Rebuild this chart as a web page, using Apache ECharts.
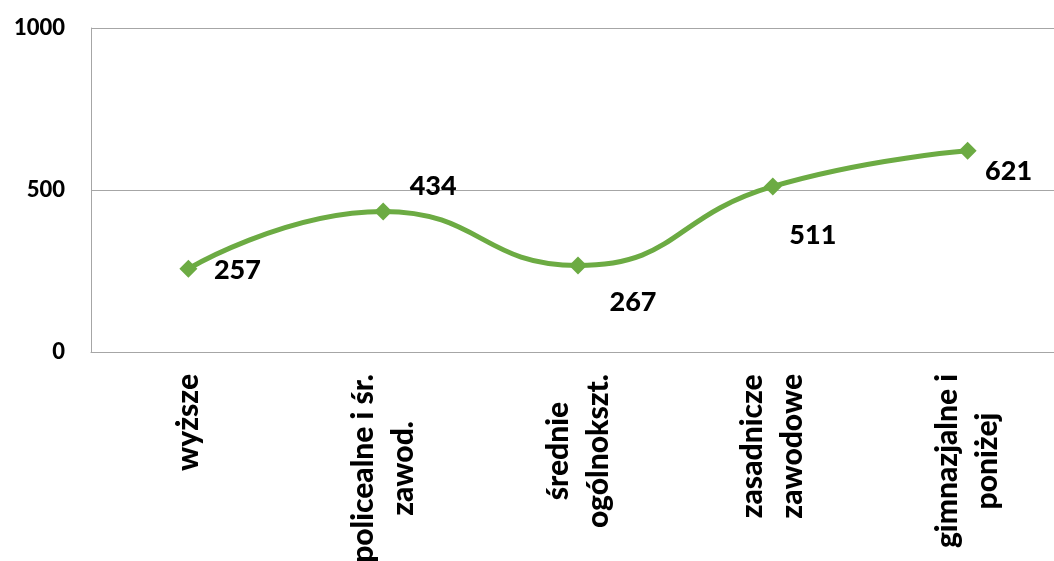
<!DOCTYPE html>
<html>
<head>
<meta charset="utf-8">
<script src="https://cdn.jsdelivr.net/npm/echarts@6/dist/echarts.min.js"></script>
<style>
  html, body { margin: 0; padding: 0; background: #ffffff; }
  #chart { width: 1054px; height: 561px; }
</style>
</head>
<body>
<div id="chart"></div>
<script>
// Data
const categories = ['wyższe', 'policealne i śr.\nzawod.', 'średnie\nogólnokszt.', 'zasadnicze\nzawodowe', 'gimnazjalne i\nponiżej'];
const values = [257, 434, 267, 511, 621];
const yTicks = [0, 500, 1000];

// Label placement (style only)
const labelOffsets = [[49, 2], [50, -25], [55, 37], [40, 49], [41, 21]];

const FONT = 'Lato, "Open Sans", sans-serif';
const chart = echarts.init(document.getElementById('chart'), null, { renderer: 'canvas' });

chart.setOption({
  backgroundColor: '#ffffff',
  animation: false,
  grid: { left: 91, top: 28, height: 324, width: 974, containLabel: false, outerBoundsMode: 'none' },
  xAxis: {
    type: 'category',
    data: categories,
    boundaryGap: true,
    axisLine: { show: true, lineStyle: { color: '#a6a6a6', width: 1 } },
    axisTick: { show: false },
    axisLabel: {
      rotate: 90,
      margin: 22,
      interval: 0,
      color: '#000',
      fontFamily: FONT,
      fontWeight: 900,
      fontSize: 30,
      formatter: v => v.split('\n').map(l => '{c|' + l + '}').join('\n'),
      rich: {
        c: { align: 'center', fontFamily: FONT, fontWeight: 900, fontSize: 30, color: '#000', lineHeight: 40 }
      }
    }
  },
  yAxis: {
    type: 'value',
    min: yTicks[0],
    max: yTicks[yTicks.length - 1],
    interval: yTicks[1] - yTicks[0],
    axisLine: { show: true, lineStyle: { color: '#a6a6a6', width: 1 } },
    axisTick: { show: false },
    splitLine: { show: true, lineStyle: { color: '#a6a6a6', width: 1 } },
    axisLabel: {
      margin: 26,
      color: '#000',
      fontFamily: FONT,
      fontWeight: 900,
      fontSize: 22,
      formatter: v => String(v)
    }
  },
  series: [{
    type: 'line',
    data: values.map((v, i) => ({
      value: v,
      label: { offset: labelOffsets[i] }
    })),
    smooth: 0.5,
    symbol: 'diamond',
    symbolSize: 18,
    lineStyle: { color: '#6cab43', width: 5 },
    itemStyle: { color: '#6cab43' },
    label: {
      show: true,
      position: 'inside',
      color: '#000',
      fontFamily: FONT,
      fontWeight: 900,
      fontSize: 27
    }
  }]
});
</script>
</body>
</html>
